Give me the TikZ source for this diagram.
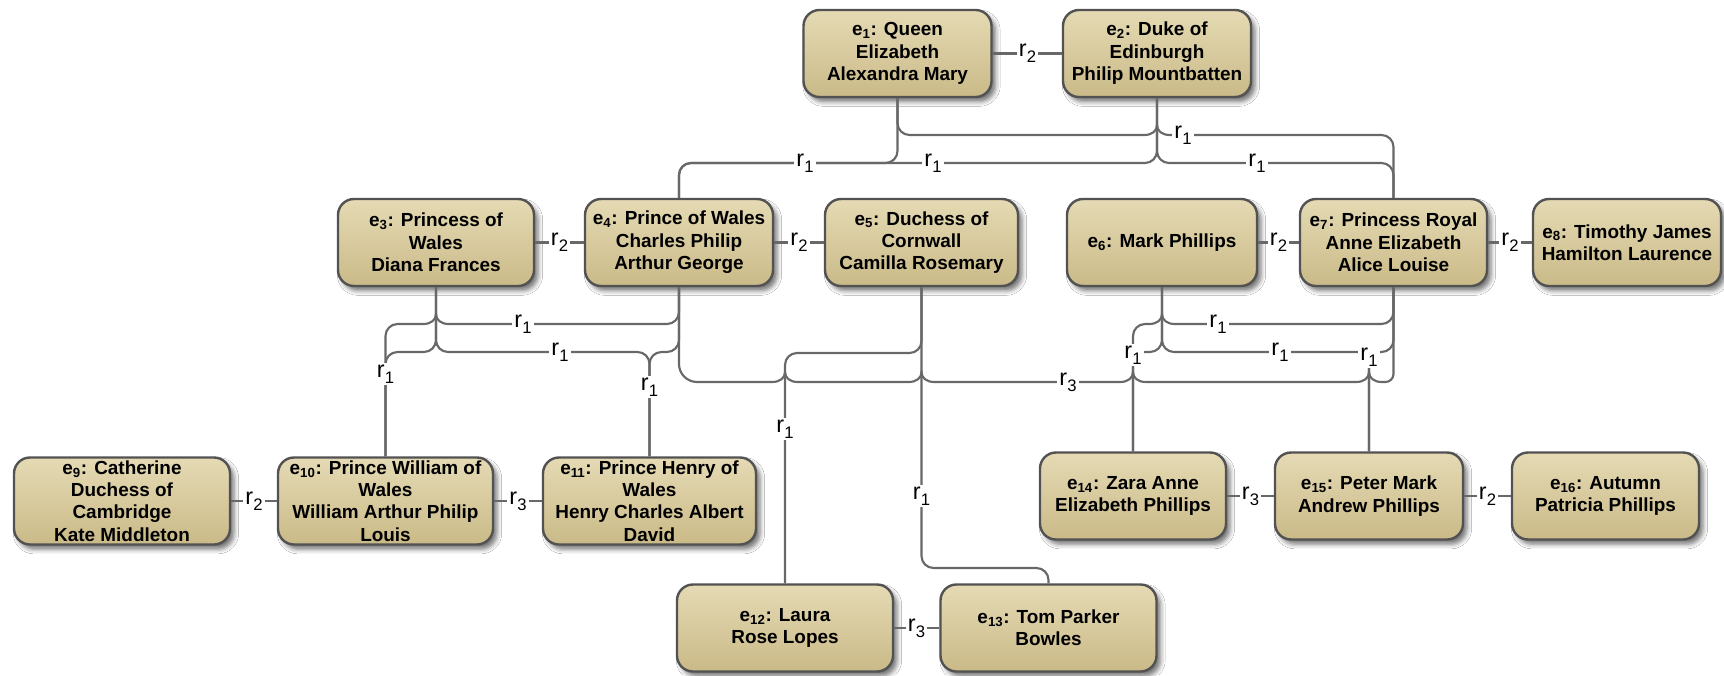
\documentclass[tikz,border=0pt]{standalone}
\usepackage{fontspec}
\setmainfont{Liberation Sans}
\usetikzlibrary{shadows.blur}

\definecolor{boxtop}{RGB}{229,218,180}
\definecolor{boxbot}{RGB}{202,186,136}
\definecolor{boxline}{RGB}{82,82,82}
\definecolor{linkgray}{RGB}{104,104,104}

% a small bump where a horizontal line jumps over a vertical one (drawn left to right)
\newcommand{\hop}[2]{-- ({#1-13},#2) .. controls ({#1-5},#2) and (#1,{#2-4}) .. (#1,{#2-10}) .. controls (#1,{#2-4}) and ({#1+5},#2) .. ({#1+13},#2)}
% relation label r_n
\newcommand{\rlab}[1]{r\raisebox{-4.5pt}{\fontsize{12.5}{12.5}\selectfont #1}}

\tikzset{every picture/.style={line width=0.75pt},
  person/.style={rectangle, rounded corners=12pt, draw=boxline, line width=1.8pt,
    top color=boxtop, bottom color=boxbot, align=center, inner sep=2pt, text=black,
    font=\bfseries\fontsize{14.2}{16.8}\selectfont,
    minimum width=141pt, minimum height=65.25pt,
    blur shadow={shadow xshift=3pt, shadow yshift=-3.5pt, shadow blur radius=3.5pt, shadow opacity=55}},
  boxw/.style={minimum width=#1*0.75pt},
  link/.style={draw=linkgray, line width=1.6pt, rounded corners=9pt},
  rlabel/.style={fill=white, inner sep=1.5pt, font=\fontsize{17.5}{17.5}\selectfont}}

\begin{document}
\begin{tikzpicture}[x=0.75pt,y=0.75pt,yscale=-1,xscale=1]
\path[fill=white] (0,0) rectangle (1724,675);
\useasboundingbox (0,0) rectangle (1724,675);

% Persons
\node[person] (e1) at (897.5,53.5) {e\textsubscript{1}: Queen\\Elizabeth\\Alexandra Mary};
\node[person] (e2) at (1157,53.5) {e\textsubscript{2}: Duke of\\Edinburgh\\Philip Mountbatten};

\node[person, boxw=196] (e3) at (436,242.5) {e\textsubscript{3}: Princess of\\Wales\\Diana Frances};
\node[person] (e4) at (679,242.5) {e\textsubscript{4}: Prince of Wales\\Charles Philip\\Arthur George};
\node[person, boxw=193] (e5) at (921.5,242.5) {e\textsubscript{5}: Duchess of\\Cornwall\\Camilla Rosemary};
\node[person, boxw=190] (e6) at (1162,242.5) {e\textsubscript{6}: Mark Phillips};
\node[person, boxw=187] (e7) at (1393.5,242.5) {e\textsubscript{7}: Princess Royal\\Anne Elizabeth\\Alice Louise};
\node[person] (e8) at (1627,242.5) {e\textsubscript{8}: Timothy James\\Hamilton Laurence};

\node[person, boxw=216] (e9) at (122,501) {e\textsubscript{9}: Catherine\\Duchess of\\Cambridge\\Kate Middleton};
\node[person, boxw=215] (e10) at (385.5,501) {e\textsubscript{10}: Prince William of\\Wales\\William Arthur Philip\\Louis};
\node[person, boxw=213] (e11) at (649.5,501) {e\textsubscript{11}: Prince Henry of\\Wales\\Henry Charles Albert\\David};

\node[person, boxw=216] (e12) at (785,628) {e\textsubscript{12}: Laura\\Rose Lopes};
\node[person, boxw=216] (e13) at (1048.5,628) {e\textsubscript{13}: Tom Parker\\Bowles};

\node[person, boxw=186] (e14) at (1133,496) {e\textsubscript{14}: Zara Anne\\Elizabeth Phillips};
\node[person] (e15) at (1369,496) {e\textsubscript{15}: Peter Mark\\Andrew Phillips};
\node[person, boxw=187] (e16) at (1605.5,496) {e\textsubscript{16}: Autumn\\Patricia Phillips};

% Same-row links
\draw[link] (e1.east) -- (e2.west);
\draw[link] (e3.east) -- (e4.west);
\draw[link] (e4.east) -- (e5.west);
\draw[link] (e6.east) -- (e7.west);
\draw[link] (e7.east) -- (e8.west);
\draw[link] (e9.east) -- (e10.west);
\draw[link] (e10.east) -- (e11.west);
\draw[link] (e12.east) -- (e13.west);
\draw[link] (e14.east) -- (e15.west);
\draw[link] (e15.east) -- (e16.west);

% Children of e1 and e2
\draw[link] (e1.south) -- (e1.south |- 0,163) -- (e4.north |- 0,163) -- (e4.north);
\draw[link] (e2.south) -- (e2.south |- 0,163) -- (e4.north |- 0,163) -- (e4.north);
\draw[link, sharp corners] (e1.south) -- (897.5,123) .. controls (897.5,129.6) and (902.9,135) .. (909.5,135) \hop{1157}{135}
  -- (1381.5,135) .. controls (1388.1,135) and (1393.5,140.4) .. (1393.5,147) -- (e7.north);
\draw[link] (e2.south) -- (e2.south |- 0,163) -- (e7.north |- 0,163) -- (e7.north);

% Children of e3 and e4
\draw[link, sharp corners] (e10.north) -- (385.5,336) .. controls (385.5,329.4) and (390.9,324) .. (397.5,324) \hop{436}{324}
  -- (667,324) .. controls (673.6,324) and (679,318.6) .. (679,312) -- (e4.south);
\draw[link] (e3.south) -- (e3.south |- 0,352) -- (e10.north |- 0,352) -- (e10.north);
\draw[link] (e3.south) -- (e3.south |- 0,352) -- (e11.north |- 0,352) -- (e11.north);
\draw[link] (e4.south) -- (e4.south |- 0,352) -- (e11.north |- 0,352) -- (e11.north);

% Children of e5
\draw[link] (e5.south) -- (e5.south |- 0,353) -- (e12.north |- 0,353) -- (e12.north);
\draw[link] (e5.south) -- (e5.south |- 0,568) -- (e13.north |- 0,568) -- (e13.north);

% Children of e6 and e7
\draw[link, sharp corners] (e14.north) -- (1133,336) .. controls (1133,329.4) and (1138.4,324) .. (1145,324) \hop{1162}{324}
  -- (1381.5,324) .. controls (1388.1,324) and (1393.5,318.6) .. (1393.5,312) -- (e7.south);
\draw[link] (e6.south) -- (e6.south |- 0,352) -- (e14.north |- 0,352) -- (e14.north);
\draw[link] (e6.south) -- (e6.south |- 0,352) -- (e15.north |- 0,352) -- (e15.north);
\draw[link] (e7.south) -- (e7.south |- 0,352) -- (e15.north |- 0,352) -- (e15.north);

% e4 and e7
\draw[link, sharp corners] (e4.south) -- (679,364) .. controls (679,373.9) and (687.1,382) .. (697,382)
  \hop{785}{382} \hop{921.5}{382} \hop{1133}{382} \hop{1369}{382}
  -- (1385.5,382) .. controls (1389.9,382) and (1393.5,378.4) .. (1393.5,374) -- (e7.south);

% Relation labels
\node[rlabel] (le1e2) at (1027.5,53.5) {\rlab{2}};
\node[rlabel] (le1e4) at (805,163) {\rlab{1}};
\node[rlabel] (le2e4) at (933,163) {\rlab{1}};
\node[rlabel] (le1e7) at (1183,135) {\rlab{1}};
\node[rlabel] (le2e7) at (1257,163) {\rlab{1}};

\node[rlabel] (le3e4) at (559.5,242.5) {\rlab{2}};
\node[rlabel] (le4e5) at (799,242.5) {\rlab{2}};
\node[rlabel] (le6e7) at (1278.5,242.5) {\rlab{2}};
\node[rlabel] (le7e8) at (1510,242.5) {\rlab{2}};

\node[rlabel] (le4e10) at (523,324) {\rlab{1}};
\node[rlabel] (le3e10) at (385.5,374) {\rlab{1}};
\node[rlabel] (le3e11) at (560,352) {\rlab{1}};
\node[rlabel] (le4e11) at (649.5,387) {\rlab{1}};
\node[rlabel] (le4e7) at (1068,382) {\rlab{3}};

\node[rlabel] (le7e14) at (1218,324) {\rlab{1}};
\node[rlabel] (le6e14) at (1133,355) {\rlab{1}};
\node[rlabel] (le6e15) at (1280,352) {\rlab{1}};
\node[rlabel] (le7e15) at (1369,357) {\rlab{1}};

\node[rlabel] (le5e12) at (785,429) {\rlab{1}};
\node[rlabel] (le5e13) at (921.5,496) {\rlab{1}};

\node[rlabel] (le9e10) at (254,501) {\rlab{2}};
\node[rlabel] (le10e11) at (518,501) {\rlab{3}};
\node[rlabel] (le12e13) at (916.5,628) {\rlab{3}};
\node[rlabel] (le14e15) at (1250.5,496) {\rlab{3}};
\node[rlabel] (le15e16) at (1487.5,496) {\rlab{2}};

\end{tikzpicture}
\end{document}
